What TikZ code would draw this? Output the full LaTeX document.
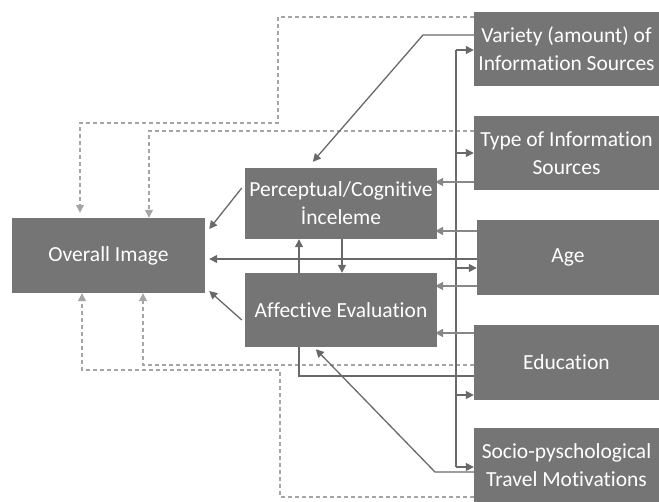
\documentclass[tikz,border=0pt]{standalone}
\usepackage{fontspec}
\setmainfont{Carlito}[RawFeature={-liga;-clig;-calt;-dlig}]
\usetikzlibrary{arrows.meta}
\definecolor{boxgray}{RGB}{117,117,117}
\definecolor{linegray}{RGB}{105,105,105}
\definecolor{shortgray}{RGB}{135,135,135}
\definecolor{dashgray}{RGB}{165,165,165}
\pgfdeclarelayer{background}
\pgfsetlayers{background,main}
\begin{document}
\begin{tikzpicture}[x=1pt,y=-1pt,
  box/.style={fill=boxgray, text=white, inner sep=0pt, align=center,
    font=\fontsize{21.5}{28}\selectfont},
  solidln/.style={draw=linegray, line width=1.3pt},
  shortln/.style={draw=shortgray, line width=2.4pt},
  dashln/.style={draw=dashgray, line width=1.3pt, dash pattern=on 4pt off 3pt},
  arr/.style={-{Triangle[length=8pt,width=8pt]}},
  darr/.style={-{Triangle[length=8pt,width=8pt,fill=dashgray]}}]
\useasboundingbox (0,0) rectangle (659,502);

% factor boxes on the right
\node[box, minimum width=185pt, minimum height=74pt] (var)   at (566.5,49)  {Variety (amount) of\\Information Sources};
\node[box, minimum width=185pt, minimum height=74pt] (type)  at (566.5,153) {Type of Information\\Sources};
\node[box, minimum width=182pt, minimum height=75pt] (age)   at (568,257.5) {Age};
\node[box, minimum width=185pt, minimum height=75pt] (edu)   at (566.5,362.5) {Education};
\node[box, minimum width=185pt, minimum height=74pt] (socio) at (566.5,465)  {Socio-pyschological\\Travel Motivations};

% image components
\node[box, minimum width=192pt, minimum height=71pt] (perc) at (341,203.5) {Perceptual/Cognitive\\İnceleme};
\node[box, minimum width=192pt, minimum height=74pt] (aff)  at (341,310)   {Affective Evaluation};
\node[box, minimum width=193pt, minimum height=75pt] (overall) at (108.5,255.5) {Overall Image};

\begin{pgfonlayer}{background}
  % dashed links into the overall image
  \draw[dashln,darr] (var.west |- 0,17) -- (278,17) -- (278,123) -- (80,123) -- ([yshift=5pt]overall.north -| 80,0);
  \draw[dashln,darr] (type.west |- 0,131) -- (149,131) -- (overall.north -| 149,0);
  \draw[dashln,darr] (edu.west |- 0,365) -- (143,365) -- (overall.south -| 143,0);
  \draw[dashln,darr] (socio.west |- 0,497) -- (280,497) -- (280,370) -- (82,370) -- (overall.south -| 82,0);

  % information sources to perceptual/cognitive
  \draw[solidln,arr] (var.west |- 0,35) -- (423,35) -- ([shift={(68,-6)}]perc.north west);

  % vertical distribution line feeding all factor boxes
  \draw[solidln] (456,50) -- (456,467);
  \draw[solidln,arr] (456,50)  -- (var.west |- 0,50);
  \draw[solidln,arr] (456,153) -- (type.west |- 0,153);
  \draw[solidln,arr] (456,268) -- (age.west |- 0,268);
  \draw[solidln,arr] (456,395) -- (edu.west |- 0,395);
  \draw[solidln,arr] (456,467) -- (socio.west |- 0,467);

  % factors to the image components
  \draw[shortln,arr,shorten >=-2pt] (type.west |- 0,182) -- (perc.east |- 0,182);
  \draw[shortln,arr,shorten >=-2pt] (age.west |- 0,231)  -- (perc.east |- 0,231);
  \draw[shortln,arr,shorten >=-2pt] (age.west |- 0,286)  -- (aff.east |- 0,286);
  \draw[shortln,arr,shorten >=-2pt] (edu.west |- 0,333)  -- (aff.east |- 0,333);

  % age to overall image
  \draw[solidln,arr,shorten >=4pt] (age.west |- 0,259) -- (overall.east |- 0,259);

  % education to perceptual/cognitive, running behind the affective box
  \draw[solidln,arr] (edu.west |- 0,376) -- (299,376) -- (perc.south -| 299,0);

  % perceptual/cognitive to affective
  \draw[solidln,arr] (perc.south -| 342,0) -- (aff.north -| 342,0);

  % components to overall image
  \draw[solidln,arr] ([xshift=-3pt]perc.west |- 0,188) -- ([xshift=4pt]overall.east |- 0,229);
  \draw[solidln,arr] ([xshift=-3pt]aff.west |- 0,320) -- ([xshift=4pt]overall.east |- 0,291);

  % travel motivations to affective evaluation
  \draw[solidln,arr] (socio.west |- 0,472) -- (435,472) -- ([shift={(71,2)}]aff.south west);
\end{pgfonlayer}
\end{tikzpicture}
\end{document}
